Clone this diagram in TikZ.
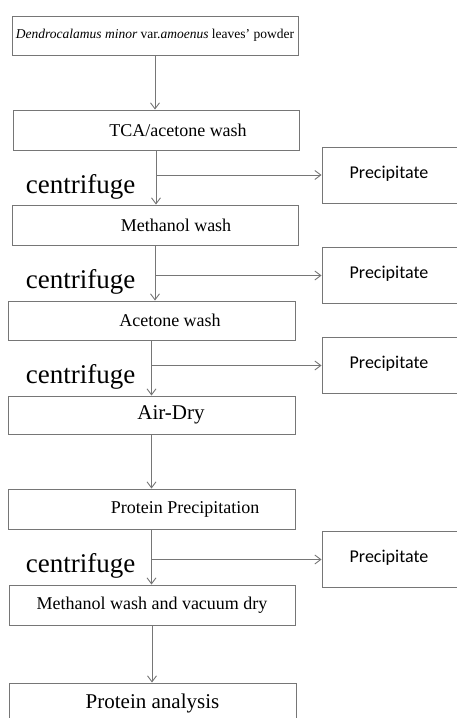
\documentclass[tikz,border=0pt]{standalone}
\usepackage{fontspec}
\setmainfont{Liberation Serif}
\newfontfamily\precfont{Carlito}
\usetikzlibrary{arrows.meta,positioning,calc}
\definecolor{linegray}{RGB}{118,118,118}

\begin{document}
\begin{tikzpicture}[x=1pt,y=-1pt]
 % boxes of the main column, the side boxes and the arrows
\tikzset{stepbox/.style={draw=linegray, line width=0.9pt, rectangle, minimum width=286pt, minimum height=40pt, inner sep=0pt, font=\fontsize{18}{20}\selectfont}}
\tikzset{every label/.style={font=\fontsize{18}{20}\selectfont, inner sep=0pt}}
\tikzset{precbox/.style={draw=linegray, line width=0.9pt, minimum width=200pt, minimum height=56pt, inner sep=0pt, label={[xshift=-33pt, yshift=1.5pt, font=\precfont\fontsize{18}{20}\selectfont]center:Precipitate}}}
\tikzset{flow/.style={draw=linegray, line width=0.9pt, -{Straight Barb[length=6pt, width=9pt]}}}
\tikzset{spin/.style={anchor=base, inner sep=0pt, font=\fontsize{27}{30}\selectfont}}
\useasboundingbox (0,0) rectangle (456,718);

\node[stepbox, minimum height=39pt, font=\fontsize{13.5}{15}\selectfont] (powder) at (155,35.5) {\textit{Dendrocalamus minor} var.\textit{amoenus} leaves' powder};
\node[stepbox, label={[xshift=22pt]center:TCA/acetone wash}] (tca) at (156,130) {};
\node[stepbox, label={[xshift=21pt]center:Methanol wash}] (meth) at (155,225) {};
\node[stepbox, minimum width=287pt, minimum height=39pt, label={[xshift=18.5pt]center:Acetone wash}] (acet) at (151.5,320.5) {};
\node[stepbox, minimum width=287pt, minimum height=38pt, label={[xshift=19.5pt, font=\fontsize{21}{24}\selectfont]center:Air-Dry}] (air) at (151.5,415) {};
\node[stepbox, minimum width=287pt, label={[xshift=33.5pt]center:Protein Precipitation}] (prot) at (151.5,509) {};
\node[stepbox] (vacuum) at (152,605) {Methanol wash and vacuum dry};
\node[stepbox, minimum width=287pt, font=\fontsize{21}{24}\selectfont] (analysis) at (152.5,703) {Protein analysis};

\node[precbox] (prec1) at (422,175) {};
\node[precbox] (prec2) at (422,275.5) {};
\node[precbox] (prec3) at (422,365.5) {};
\node[precbox] (prec4) at (422,559.5) {};

\node[spin] (spin1) at (80.5,193) {centrifuge};
\node[spin] (spin2) at (80.5,288) {centrifuge};
\node[spin] (spin3) at (80.5,383) {centrifuge};
\node[spin] (spin4) at (80.5,572) {centrifuge};

\draw[flow] (powder.south) -- (powder.south |- tca.north);
\draw[flow] (tca.south) -- (tca.south |- meth.north);
\draw[flow] (tca.south |- prec1.west) -- (prec1.west);
\draw[flow] (meth.south) -- (meth.south |- acet.north);
\draw[flow] (meth.south |- prec2.west) -- (prec2.west);
\draw[flow] (acet.south) -- (acet.south |- air.north);
\draw[flow] (acet.south |- prec3.west) -- (prec3.west);
\draw[flow] (air.south) -- (air.south |- prot.north);
\draw[flow] (prot.south) -- (prot.south |- vacuum.north);
\draw[flow] (prot.south |- prec4.west) -- (prec4.west);
\draw[flow] (vacuum.south) -- (vacuum.south |- analysis.north);

\end{tikzpicture}
\end{document}
